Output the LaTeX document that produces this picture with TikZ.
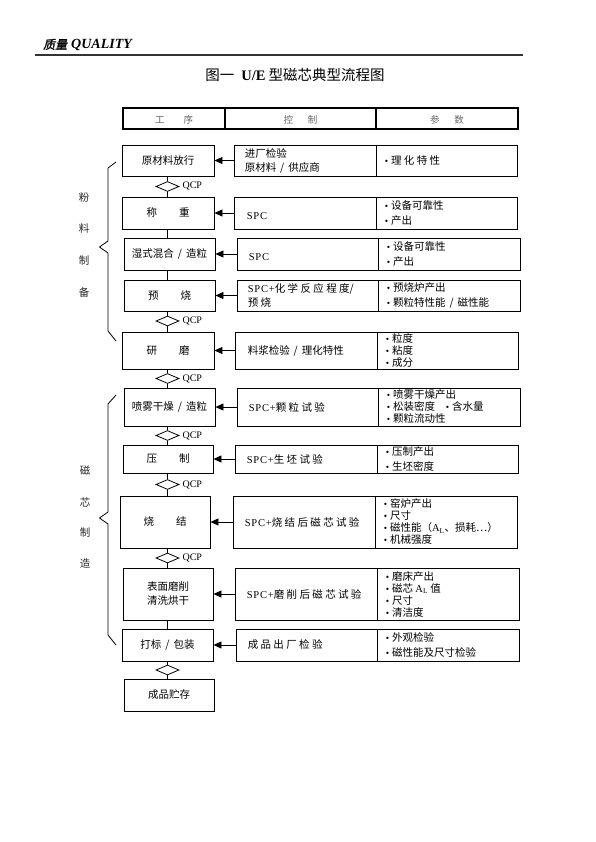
\documentclass[tikz,border=0pt]{standalone}
\usepackage{fontspec}
\setmainfont{Liberation Serif}
\newfontfamily\cj{Noto Sans CJK SC}
\newfontfamily\cjit[FakeSlant=0.2,FakeBold=1.5]{Noto Sans CJK SC}
\newfontfamily\latsp[LetterSpace=8]{Liberation Serif}
\usetikzlibrary{shapes.geometric,arrows.meta}
\newcommand\bul{{\rmfamily\fontsize{9.5}{9}\selectfont\textbullet}\hspace{3pt}}
\newcommand\sls{\hspace{4pt}/\hspace{4pt}}
\newcommand\spc[1]{{\latsp\fontsize{10.5}{10}\selectfont #1}}
\newcommand\bx[7]{\node[#6, minimum width=#4pt-#2pt, minimum height=#5pt-#3pt] (#1) at ({(#2+#4)/2},{(#3+#5)/2}) {#7};}
\tikzset{
  pbox/.style={draw, line width=0.9pt, inner sep=0pt, align=center, font=\cj\fontsize{10.5}{14}\selectfont},
  cbox/.style={draw, line width=0.9pt, inner sep=0pt},
  hbox/.style={draw, line width=1.4pt, inner sep=0pt, text=black!60, font=\cj\fontsize{9.5}{10}\selectfont},
  ctx/.style={anchor=west, inner sep=0pt, align=left, font=\cj\fontsize{10.5}{14}\selectfont},
  qtx/.style={anchor=west, inner sep=0pt, align=left, font=\cj\fontsize{10.5}{14.5}\selectfont},
  qtxs/.style={anchor=west, inner sep=0pt, align=left, font=\cj\fontsize{10.5}{12}\selectfont},
  dia/.style={draw, diamond, line width=0.8pt, inner sep=0pt, minimum width=23pt, minimum height=10pt},
  qcp/.style={anchor=west, inner sep=0pt, font=\rmfamily\fontsize{10}{10}\selectfont},
  link/.style={line width=0.8pt},
  arr/.style={line width=0.8pt, -{Triangle[length=8pt,width=7pt]}},
  brace/.style={line width=0.8pt},
  side/.style={inner sep=0pt, text=black!85, font=\cj\fontsize{10.5}{10}\selectfont}
}
\begin{document}
\begin{tikzpicture}[x=1pt,y=-1pt]
\path[use as bounding box, fill=white] (0,0) rectangle (595,842);

% page header
\node[anchor=west, inner sep=0pt] (hdr) at (43,45) {{\cjit\fontsize{12}{12}\selectfont 质量}\hspace{4pt}{\rmfamily\bfseries\itshape\fontsize{14}{14}\selectfont QUALITY}};
\draw[line width=1.8pt, black!80] (35,55) -- (523,55);

% title
\node[inner sep=0pt] (title) at (295,75) {\cj\fontsize{14.5}{15}\selectfont 图一\hspace{7pt}{\rmfamily\bfseries U/E} 型磁芯典型流程图};

% table header
\bx{h1}{123}{108}{225}{129}{hbox}{}
\bx{h2}{225}{108}{376}{129}{hbox}{}
\bx{h3}{376}{108}{518}{129}{hbox}{}
\node[hbox, draw=none, yshift=-1.5pt] at (h1) {工\hspace{19pt}序};
\node[hbox, draw=none, yshift=-1.5pt] at (h2) {控\hspace{15pt}制};
\node[hbox, draw=none, yshift=-1.5pt] at (h3) {参\hspace{15pt}数};

% row 1
\bx{p1}{122}{145}{214}{176}{pbox}{原材料放行}
\bx{c1}{234}{145}{376}{176}{cbox}{}
\bx{q1}{376}{145}{517}{176}{cbox}{}
\node[ctx] at ([xshift=11pt]c1.west) {进厂检验\\原材料\sls 供应商};
\node[qtx] at ([xshift=9pt]q1.west) {\bul 理 化 特 性};
% row 2
\bx{p2}{122}{197}{214}{229}{pbox}{称\hspace{22pt}重}
\bx{c2}{234}{197}{376}{229}{cbox}{}
\bx{q2}{376}{197}{517}{229}{cbox}{}
\node[ctx, yshift=-3pt] at ([xshift=13pt]c2.west) {\spc{SPC}};
\node[qtx] at ([xshift=9pt]q2.west) {\bul 设备可靠性\\\bul 产出};
% row 3
\bx{p3}{124}{238}{215}{270}{pbox}{湿式混合\sls 造粒}
\bx{c3}{237}{238}{378}{270}{cbox}{}
\bx{q3}{378}{238}{520}{270}{cbox}{}
\node[ctx, yshift=-3pt] at ([xshift=12pt]c3.west) {\spc{SPC}};
\node[qtx] at ([xshift=9pt]q3.west) {\bul 设备可靠性\\\bul 产出};
% row 4
\bx{p4}{124}{280}{215}{311}{pbox}{预\hspace{22pt}烧}
\bx{c4}{237}{280}{378}{311}{cbox}{}
\bx{q4}{378}{280}{520}{311}{cbox}{}
\node[ctx] at ([xshift=11pt]c4.west) {\spc{SPC+}化 学 反 应 程 度/\\预 烧};
\node[qtx] at ([xshift=9pt]q4.west) {\bul 预烧炉产出\\\bul 颗粒特性能\sls 磁性能};
% row 5
\bx{p5}{122}{332}{214}{369}{pbox}{研\hspace{22pt}磨}
\bx{c5}{235}{332}{377}{369}{cbox}{}
\bx{q5}{377}{332}{518}{369}{cbox}{}
\node[ctx] at ([xshift=13pt]c5.west) {料浆检验\sls 理化特性};
\node[qtxs] at ([xshift=9pt]q5.west) {\bul 粒度\\\bul 粘度\\\bul 成分};
% row 6
\bx{p6}{124}{388}{215}{426}{pbox}{喷雾干燥\sls 造粒}
\bx{c6}{237}{388}{378}{426}{cbox}{}
\bx{q6}{378}{388}{520}{426}{cbox}{}
\node[ctx] at ([xshift=12pt]c6.west) {\spc{SPC+}颗 粒 试 验};
\node[qtxs] at ([xshift=9pt]q6.west) {\bul 喷雾干燥产出\\\makebox[59pt][l]{\bul 松装密度}\bul 含水量\\\bul 颗粒流动性};
% row 7
\bx{p7}{123}{445}{213}{473}{pbox}{压\hspace{22pt}制}
\bx{c7}{235}{445}{377}{473}{cbox}{}
\bx{q7}{377}{445}{518}{473}{cbox}{}
\node[ctx] at ([xshift=12pt]c7.west) {\spc{SPC+}生 坯 试 验};
\node[qtx] at ([xshift=9pt]q7.west) {\bul 压制产出\\\bul 生坯密度};
% row 8
\bx{p8}{120}{496}{210}{548}{pbox}{烧\hspace{22pt}结}
\bx{c8}{233}{496}{375}{548}{cbox}{}
\bx{q8}{375}{496}{517}{548}{cbox}{}
\node[ctx] at ([xshift=12pt]c8.west) {\spc{SPC+}烧 结 后 磁 芯 试 验};
\node[qtxs] at ([xshift=9pt]q8.west) {\bul 窑炉产出\\\bul 尺寸\\\bul 磁性能（{\rmfamily A\textsubscript{L}}、损耗…）\\\bul 机械强度};
% row 9
\bx{p9}{123}{568}{213}{620}{pbox}{表面磨削\\清洗烘干}
\bx{c9}{235}{568}{377}{620}{cbox}{}
\bx{q9}{377}{568}{519}{620}{cbox}{}
\node[ctx] at ([xshift=12pt]c9.west) {\spc{SPC+}磨 削 后 磁 芯 试 验};
\node[qtxs] at ([xshift=9pt]q9.west) {\bul 磨床产出\\\bul 磁芯 {\rmfamily A\textsubscript{L}} 值\\\bul 尺寸\\\bul 清洁度};
% row 10
\bx{p10}{122}{629}{213}{661}{pbox}{打标\sls 包装}
\bx{c10}{236}{629}{377}{661}{cbox}{}
\bx{q10}{377}{629}{519}{661}{cbox}{}
\node[ctx] at ([xshift=12pt]c10.west) {成 品 出 厂 检 验};
\node[qtx] at ([xshift=9pt]q10.west) {\bul 外观检验\\\bul 磁性能及尺寸检验};
% row 11
\bx{p11}{124}{679}{214}{711}{pbox}{成品贮存}

% arrows
\foreach \i in {1,...,10} { \draw[arr] (c\i.west) -- (p\i.east); }

% diamonds
\node[dia] (d1) at (167.5,186.5) {};
\node[dia] (d2) at (167.5,321) {};
\node[dia] (d3) at (167.5,378.5) {};
\node[dia] (d4) at (167.5,435.5) {};
\node[dia] (d5) at (167.5,484.5) {};
\node[dia] (d6) at (167.5,558) {};
\node[dia] (d7) at (167.5,670) {};
\foreach \i in {1,...,6} { \node[qcp] at ([xshift=3pt]d\i.east) {QCP}; }

% links
\draw[link] (p1.south -| d1.north) -- (d1.north);
\draw[link] (d1.south) -- (p2.north -| d1.south);
\draw[link] (p2.south -| d1.south) -- (p3.north -| d1.south);
\draw[link] (p3.south -| d1.south) -- (p4.north -| d1.south);
\draw[link] (p4.south -| d2.north) -- (d2.north);
\draw[link] (d2.south) -- (p5.north -| d2.south);
\draw[link] (p5.south -| d3.north) -- (d3.north);
\draw[link] (d3.south) -- (p6.north -| d3.south);
\draw[link] (p6.south -| d4.north) -- (d4.north);
\draw[link] (d4.south) -- (p7.north -| d4.south);
\draw[link] (p7.south -| d5.north) -- (d5.north);
\draw[link] (d5.south) -- (p8.north -| d5.south);
\draw[link] (p8.south -| d6.north) -- (d6.north);
\draw[link] (d6.south) -- (p9.north -| d6.south);
\draw[link] (p9.south -| d6.south) -- (p10.north -| d6.south);
\draw[link] (p10.south -| d7.north) -- (d7.north);
\draw[link] (d7.south) -- (p11.north -| d7.south);

% braces
\draw[brace] (116,162) -- (108,168) -- (108,241) -- (99.5,247) -- (108,253) -- (108,331) -- (116,341);
\draw[brace] (116,395) -- (108,404) -- (108,512) -- (99.5,518) -- (108,524) -- (108,635) -- (116,645);

% side labels
\node[side] (s1) at (84,198) {粉};
\node[side] (s2) at (84,229) {料};
\node[side] (s3) at (84,261) {制};
\node[side] (s4) at (84,292) {备};
\node[side] (s5) at (85,470) {磁};
\node[side] (s6) at (85,502) {芯};
\node[side] (s7) at (85,533) {制};
\node[side] (s8) at (85,563) {造};
\end{tikzpicture}
\end{document}
